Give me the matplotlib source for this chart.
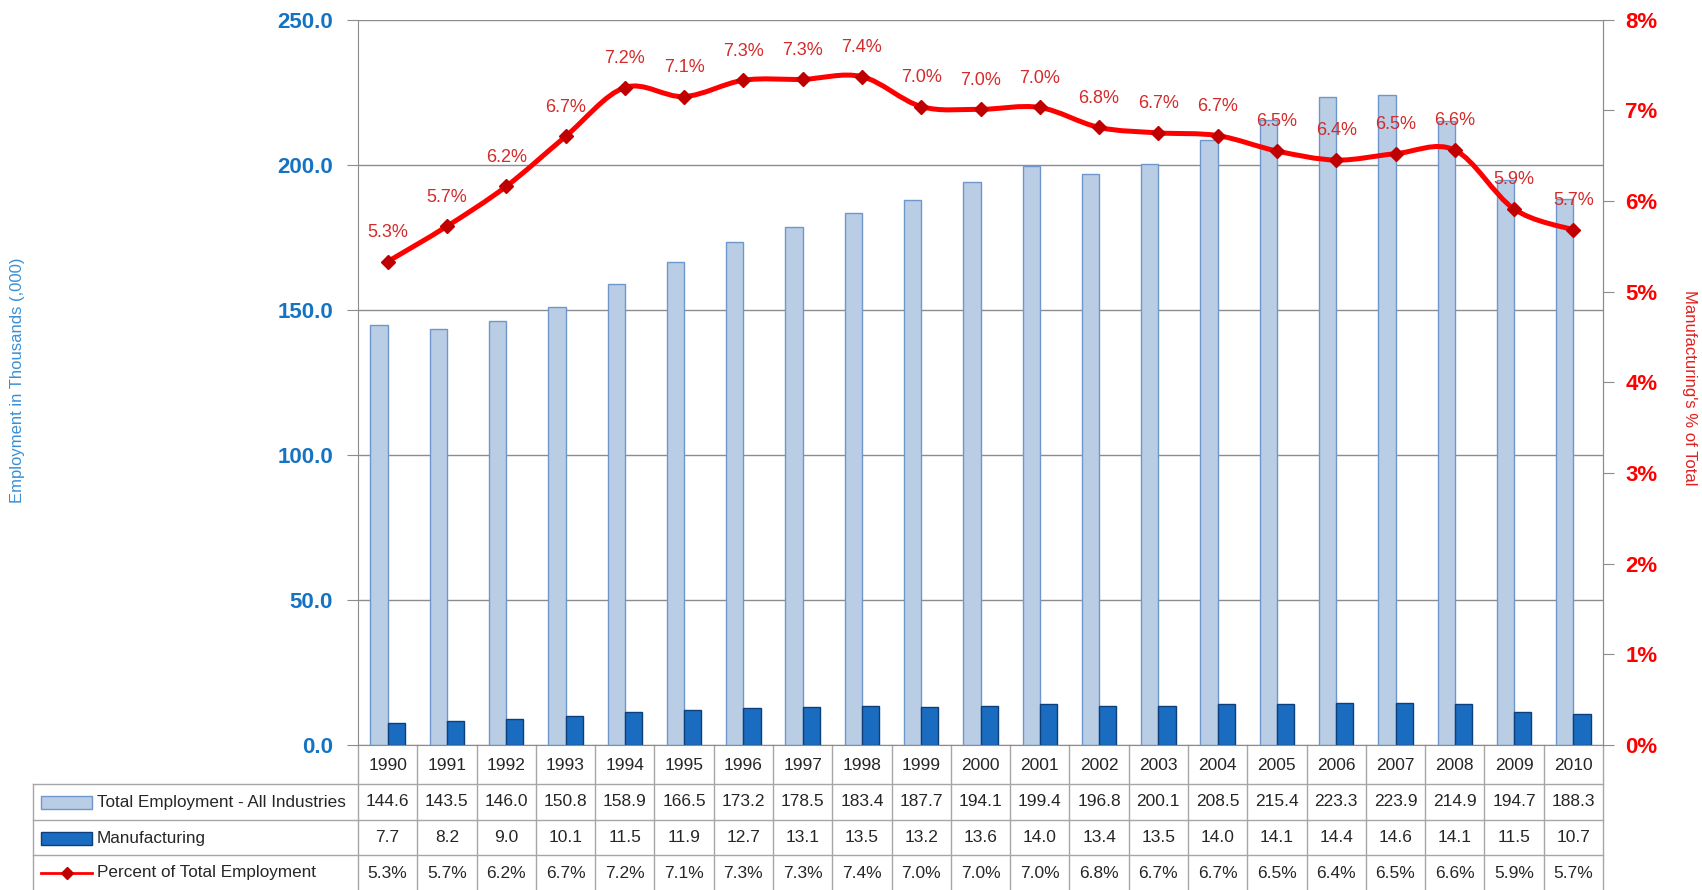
import matplotlib
matplotlib.use("Agg")
import matplotlib.pyplot as plt
from matplotlib.path import Path
from matplotlib.patches import PathPatch, Rectangle
from matplotlib.lines import Line2D
from matplotlib.transforms import blended_transform_factory
from matplotlib.ticker import FuncFormatter, MultipleLocator

years = ['1990', '1991', '1992', '1993', '1994', '1995', '1996', '1997', '1998', '1999', '2000',
         '2001', '2002', '2003', '2004', '2005', '2006', '2007', '2008', '2009', '2010']
total = [144.6, 143.5, 146.0, 150.8, 158.9, 166.5, 173.2, 178.5, 183.4, 187.7, 194.1,
         199.4, 196.8, 200.1, 208.5, 215.4, 223.3, 223.9, 214.9, 194.7, 188.3]
manuf = [7.7, 8.2, 9.0, 10.1, 11.5, 11.9, 12.7, 13.1, 13.5, 13.2, 13.6,
         14.0, 13.4, 13.5, 14.0, 14.1, 14.4, 14.6, 14.1, 11.5, 10.7]
# percent (labels are rounded)
pct = [5.33, 5.72, 6.16, 6.71, 7.25, 7.15, 7.33, 7.34, 7.37, 7.04, 7.01,
       7.03, 6.81, 6.75, 6.72, 6.55, 6.45, 6.52, 6.56, 5.91, 5.68]
pct_labels = ['5.3%', '5.7%', '6.2%', '6.7%', '7.2%', '7.1%', '7.3%', '7.3%', '7.4%', '7.0%', '7.0%',
              '7.0%', '6.8%', '6.7%', '6.7%', '6.5%', '6.4%', '6.5%', '6.6%', '5.9%', '5.7%']
row_names = ['Total Employment - All Industries', 'Manufacturing', 'Percent of Total Employment']

NARROW = ['Liberation Sans', 'DejaVu Sans']
BOLD = ['Liberation Sans', 'DejaVu Sans']
LIGHT = '#B9CDE5'
LIGHT_EDGE = '#6F97CB'
DARK = '#1A6CC0'
DARK_EDGE = '#0E3F7A'
RED = '#FF0000'
MARK = '#C00000'
GRID = '#8C8C8C'
TBL = '#A6A6A6'

W, H = 1702, 890
fig = plt.figure(figsize=(W / 100, H / 100), dpi=100)
L, R, T, B = 358, 1603, 19.5, 745
ax = fig.add_axes([L / W, 1 - B / H, (R - L) / W, (B - T) / H])
ax2 = ax.twinx()

x = list(range(len(years)))
bw = 0.29
ax.bar([i - bw / 2 for i in x], total, width=bw, color=LIGHT, edgecolor=LIGHT_EDGE, linewidth=1)
ax.bar([i + bw / 2 for i in x], manuf, width=bw, color=DARK, edgecolor=DARK_EDGE, linewidth=1)
ax.set_xlim(-0.5, len(years) - 0.5)
ax.set_ylim(0, 250)
ax.yaxis.set_major_locator(MultipleLocator(50))
ax.yaxis.set_major_formatter(FuncFormatter(lambda v, p: f'{v:.1f}'))
ax.grid(axis='y', color=GRID, linewidth=1)
ax.set_axisbelow(True)
ax.set_xticks([])
ax.spines['top'].set_visible(False)
for s in ['left', 'bottom', 'right']:
    ax.spines[s].set_color(GRID)
ax.tick_params(axis='y', length=8, color=GRID, pad=10, labelcolor='#1573C4')
for lab in ax.get_yticklabels():
    lab.set_fontfamily(BOLD)
    lab.set_fontweight('bold')
    lab.set_fontsize(16)

# smoothed line (Catmull-Rom drawn as cubic Bezier path)
pts = list(zip(x, pct))
verts = [pts[0]]
codes = [Path.MOVETO]
for i in range(len(pts) - 1):
    p0 = pts[max(i - 1, 0)]
    p1 = pts[i]
    p2 = pts[i + 1]
    p3 = pts[min(i + 2, len(pts) - 1)]
    c1 = (p1[0] + (p2[0] - p0[0]) / 6, p1[1] + (p2[1] - p0[1]) / 6)
    c2 = (p2[0] - (p3[0] - p1[0]) / 6, p2[1] - (p3[1] - p1[1]) / 6)
    verts += [c1, c2, p2]
    codes += [Path.CURVE4] * 3
ax2.add_patch(PathPatch(Path(verts, codes), facecolor='none', edgecolor=RED, linewidth=3.6,
                        capstyle='round', joinstyle='round'))
ax2.plot(x, pct, linestyle='none', marker='D', markersize=7, color=MARK)
for i, (v, t) in enumerate(zip(pct, pct_labels)):
    ax2.annotate(t, (i, v), xytext=(0, 21), textcoords='offset points', ha='center', va='center',
                 color='#D42A2A', fontsize=13, family=NARROW)
ax2.set_ylim(0, 8)
ax2.yaxis.set_major_locator(MultipleLocator(1))
ax2.yaxis.set_major_formatter(FuncFormatter(lambda v, p: f'{v:.0f}%'))
ax2.tick_params(axis='y', length=8, color=GRID, pad=8, labelcolor=RED)
for lab in ax2.get_yticklabels():
    lab.set_fontfamily(BOLD)
    lab.set_fontweight('bold')
    lab.set_fontsize(16)
for s in ['top', 'left', 'bottom']:
    ax2.spines[s].set_visible(False)
ax2.spines['right'].set_color(GRID)

fig.text(18 / W, 1 - 380 / H, 'Employment in Thousands (,000)', rotation=90, ha='center', va='center',
         color='#3A8FD6', fontsize=12, family=NARROW)
fig.text(1690 / W, 1 - 388 / H, "Manufacturing's % of Total", rotation=270, ha='center', va='center',
         color='#E02020', fontsize=12, family=NARROW)

# data table below the axis
bt = blended_transform_factory(ax.transData, fig.transFigure)
def fy(py):
    return 1 - py / H

rows_y = [745, 784, 820, 855, 891]
for py in rows_y[1:]:
    fig.add_artist(Line2D([33 / W, R / W], [fy(py), fy(py)], color=TBL, linewidth=1))
fig.add_artist(Line2D([33 / W, 33 / W], [fy(784), fy(891)], color=TBL, linewidth=1))
for i in range(len(years) + 1):
    ax.plot([i - 0.5, i - 0.5], [fy(745), fy(891)], transform=bt, clip_on=False, color=TBL, linewidth=1)

cell_font = dict(ha='center', va='center', fontsize=12.5, family=NARROW, color='#262626')
for i in x:
    ax.text(i, fy(765), years[i], transform=bt, **cell_font)
    ax.text(i, fy(802), f'{total[i]:.1f}', transform=bt, **cell_font)
    ax.text(i, fy(838), f'{manuf[i]:.1f}', transform=bt, **cell_font)
    ax.text(i, fy(873), pct_labels[i], transform=bt, **cell_font)

row_cy = [802, 838, 873]
fig.add_artist(Rectangle((41 / W, fy(802) - 6.5 / H), 51 / W, 13 / H, transform=fig.transFigure,
                         facecolor=LIGHT, edgecolor=LIGHT_EDGE, linewidth=1))
fig.add_artist(Rectangle((41 / W, fy(838) - 6.5 / H), 51 / W, 13 / H, transform=fig.transFigure,
                         facecolor=DARK, edgecolor=DARK_EDGE, linewidth=1))
fig.add_artist(Line2D([41 / W, 92 / W], [fy(873), fy(873)], color=RED, linewidth=2))
fig.add_artist(Line2D([66.5 / W], [fy(873)], marker='D', markersize=6, color=MARK, linestyle='none'))
for name, cy in zip(row_names, row_cy):
    fig.text(97 / W, fy(cy), name, ha='left', va='center', fontsize=12.3, family=NARROW, color='#262626')

fig.savefig('out.png', dpi=100)
